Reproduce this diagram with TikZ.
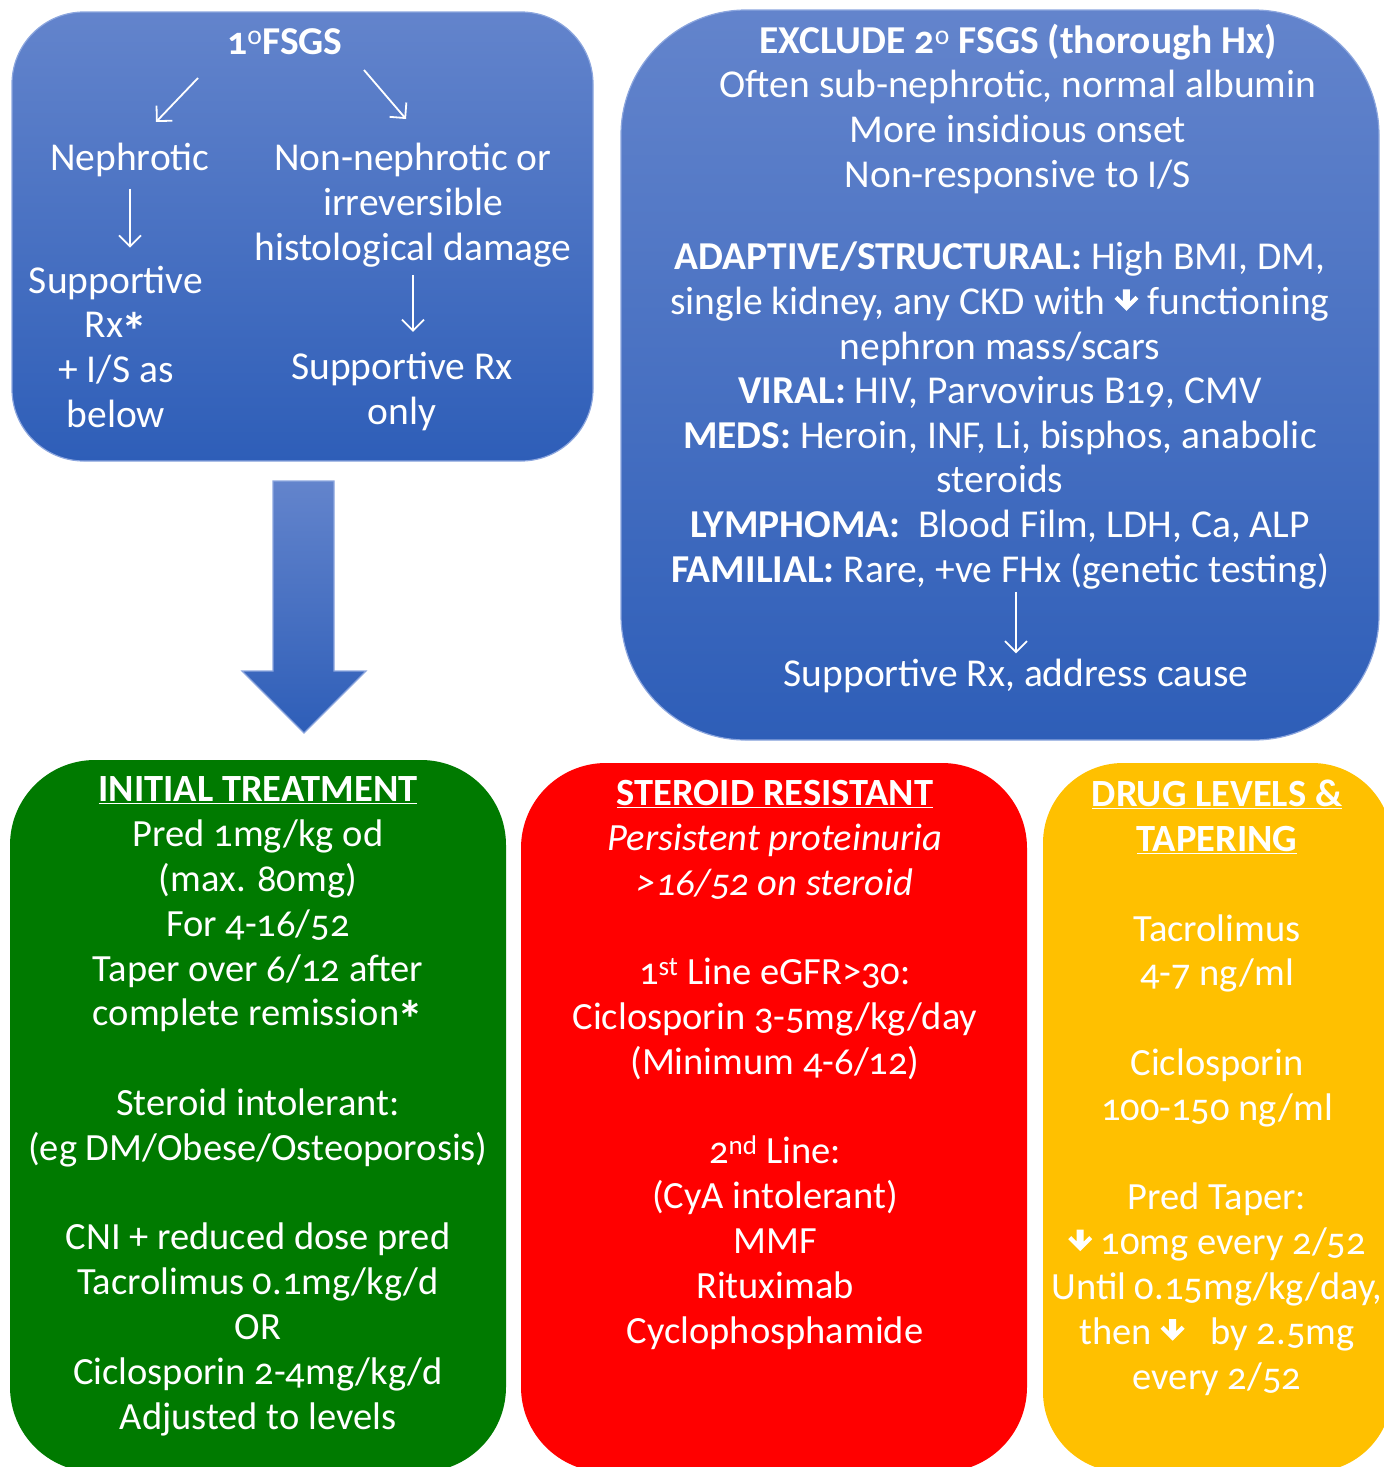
\documentclass[tikz,border=0pt]{standalone}
\usepackage{fontspec}
\setmainfont{Carlito}[Numbers=OldStyle]
\usetikzlibrary{arrows.meta}

\definecolor{bluetop}{RGB}{99,132,204}
\definecolor{bluebot}{RGB}{46,94,184}
\definecolor{blueedge}{RGB}{140,166,222}
\definecolor{rxgreen}{RGB}{0,122,0}
\definecolor{rxred}{RGB}{255,0,0}
\definecolor{rxamber}{RGB}{255,192,0}

\newcommand{\dn}{\tikz[x=1pt, y=1pt, baseline=0pt]{\fill[white] (-3.5,25) -- (3.5,25) -- (3.5,13) -- (9,18.5) -- (12,15.5) -- (0,3.5) -- (-12,15.5) -- (-9,18.5) -- (-3.5,13) -- cycle;}}
\newcommand{\bigast}{\kern-2pt\smash{\raisebox{-12pt}{\fontsize{52}{44.8}\selectfont\bfseries *}}}

\begin{document}
\begin{tikzpicture}[x=1pt, y=-1pt,
		txt/.style={text=white, inner sep=0pt, anchor=base, align=center, font=\fontsize{38.5}{44.8}\selectfont},
		toptxt/.style={txt, font=\fontsize{39.5}{44.6}\selectfont},
		wline/.style={white, line width=1.8pt, -{Straight Barb[length=11pt, width=22pt]}},
		bluebox/.style={top color=bluetop, bottom color=bluebot, draw=blueedge, line width=1.2pt}]
			\useasboundingbox (0,0) rectangle (1384,1467);
			\clip (0,0) rectangle (1384,1467);
			
			\shade[bluebox, rounded corners=72pt] (12,12) rectangle (593,461);
			\shade[bluebox, rounded corners=125pt] (621,10) rectangle (1379,740);
			\shade[bluebox] (273,481) -- (334,481) -- (334,671) -- (366,671) -- (304,733) -- (242,671) -- (273,671) -- cycle;
			
			\fill[rxgreen, rounded corners=85pt] (10,760) rectangle (506,1472);
			\fill[rxred, rounded corners=85pt] (521,763) rectangle (1027,1472);
			\fill[rxamber, rounded corners=80pt] (1043,763) rectangle (1392,1472);
			
			\node[toptxt] (fsgs) at (285,54) {\bfseries 1\textsuperscript{\mdseries o}FSGS};
			\node[toptxt] (nephro) at (130,170) {Nephrotic};
			\node[toptxt] (suppA) at (116,427) {Supportive\\Rx\bigast\\+ I/S as\\below};
			\node[toptxt] (nonneph) at (413,260) {Non-nephrotic or\\irreversible\\histological damage};
			\node[toptxt] (suppB) at (402,424) {Supportive Rx\\only};
			\coordinate (la) at (198,78);
			\coordinate (lb) at (156,122);
			\coordinate (ra) at (364,70);
			\coordinate (rb) at (406,119);
			\draw[wline] (la) -- (lb);
			\draw[wline] (ra) -- (rb);
			\draw[wline, shorten <=12pt, shorten >=18pt] (nephro.south) -- (nephro.south |- suppA.north);
			\draw[wline, shorten <=8pt, shorten >=20pt] (nonneph.south) -- (nonneph.south |- suppB.north);
			
			\node[toptxt] (excl) at (1018,187) {\bfseries EXCLUDE 2\textsuperscript{\mdseries o} FSGS (thorough Hx)\\Often sub-nephrotic, normal albumin\\More insidious onset\\Non-responsive to I/S};
			\node[toptxt] (causes) at (1000,582) {\textbf{ADAPTIVE/STRUCTURAL:} High BMI, DM,\\single kidney, any CKD with \dn\ functioning\\nephron mass/scars\\\textbf{VIRAL:} HIV, Parvovirus B19, CMV\\\textbf{MEDS:} Heroin, INF, Li, bisphos, anabolic\\steroids\\\textbf{LYMPHOMA:}~ Blood Film, LDH, Ca, ALP\\\textbf{FAMILIAL:} Rare, +ve FHx (genetic testing)};
			\node[toptxt] (cause) at (1016,686) {Supportive Rx, address cause};
			\draw[wline, shorten <=3pt, shorten >=5pt] (cause.north |- causes.south) -- (cause.north);
			
			\node[txt] (initial) at (258,1429) {\textbf{\underline{INITIAL TREATMENT}}\\Pred 1mg/kg od\\(max. 80mg)\\For 4-16/52\\Taper over 6/12 after\\complete remission\bigast\\[44.8pt]Steroid intolerant:\\(eg DM/Obese/Osteoporosis)\\[44.8pt]CNI + reduced dose pred\\Tacrolimus 0.1mg/kg/d\\OR\\Ciclosporin 2-4mg/kg/d\\Adjusted to levels};
			\node[txt] (resist) at (775,1343) {\textbf{\underline{STEROID RESISTANT}}\\\itshape Persistent proteinuria\\\itshape >16/52 on steroid\\[44.8pt]1\textsuperscript{st} Line eGFR>30:\\Ciclosporin 3-5mg/kg/day\\(Minimum 4-6/12)\\[44.8pt]2\textsuperscript{nd} Line:\\(CyA intolerant)\\MMF\\Rituximab\\Cyclophosphamide};
			\node[txt] (levels) at (1217,1389) {\textbf{\underline{DRUG LEVELS \&}}\\\textbf{\underline{TAPERING}}\\[44.8pt]Tacrolimus\\4-7 ng/ml\\[44.8pt]Ciclosporin\\100-150 ng/ml\\[44.8pt]Pred Taper:\\\dn\ 10mg every 2/52\\Until 0.15mg/kg/day,\\then \dn\ \ \ by 2.5mg\\every 2/52};
			
		\end{tikzpicture}
\end{document}
